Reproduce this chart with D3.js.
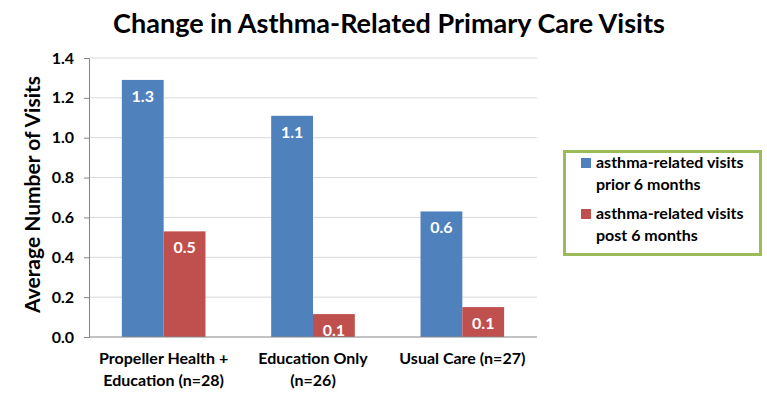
<!DOCTYPE html>
<html>
<head>
<meta charset="utf-8">
<script src="https://cdn.jsdelivr.net/npm/d3@7"></script>
<style>
  html, body { margin: 0; padding: 0; background: #fff; }
  svg { display: block; font-family: Lato, "Open Sans", sans-serif; font-weight: bold; }
</style>
</head>
<body>
<div id="chart"></div>
<script>
// chart data
const categories = [
  ["Propeller Health +", "Education (n=28)"],
  ["Education Only", "(n=26)"],
  ["Usual Care (n=27)"]
];
const seriesNames = [
  ["asthma-related visits", "prior 6 months"],
  ["asthma-related visits", "post 6 months"]
];
const priorVisits = [1.29, 1.11, 0.63];
const postVisits = [0.53, 0.115, 0.15];
const yTicks = [0, 0.2, 0.4, 0.6, 0.8, 1.0, 1.2, 1.4];
const colors = ["#4F81BD", "#C0504D"];

const width = 767;
const height = 395;
const margin = { top: 58, right: 230, bottom: 58, left: 89 };

const svg = d3.select("#chart")
  .append("svg")
  .attr("width", width)
  .attr("height", height);

// Scales
const x = d3.scaleBand()
  .domain(d3.range(categories.length))
  .range([margin.left, width - margin.right])
  .paddingInner(0.44)
  .paddingOuter(0.22);

const xSub = d3.scaleBand()
  .domain([0, 1])
  .range([0, x.bandwidth()]);

const y = d3.scaleLinear()
  .domain([0, 1.4])
  .range([height - margin.bottom, margin.top]);

// Gridlines
svg.append("g")
  .selectAll("line")
  .data(yTicks.slice(1))
  .join("line")
  .attr("x1", margin.left)
  .attr("x2", width - margin.right)
  .attr("y1", (d) => y(d))
  .attr("y2", (d) => y(d))
  .attr("stroke", "#D9D9D9")
  .attr("stroke-width", 1);

// Bars
const seriesData = [priorVisits, postVisits];
seriesData.forEach((vals, s) => {
  const g = svg.append("g");
  g.selectAll("rect")
    .data(vals)
    .join("rect")
    .attr("x", (d, i) => x(i) + xSub(s))
    .attr("y", (d) => y(d))
    .attr("width", xSub.bandwidth())
    .attr("height", (d) => y(0) - y(d))
    .attr("fill", colors[s]);

  g.selectAll("text")
    .data(vals)
    .join("text")
    .attr("x", (d, i) => x(i) + xSub(s) + xSub.bandwidth() / 2)
    .attr("y", (d) => y(d) + 22)
    .attr("text-anchor", "middle")
    .attr("fill", "#fff")
    .style("font-size", "16px")
    .text((d) => d3.format(".1f")(d));
});

// Y axis
const yAxis = d3.axisLeft(y)
  .tickValues(yTicks)
  .tickFormat(d3.format(".1f"))
  .tickSize(5)
  .tickPadding(10);

const yg = svg.append("g")
  .attr("transform", `translate(${margin.left},0)`)
  .call(yAxis);
yg.select(".domain").attr("stroke", "#868686");
yg.selectAll(".tick line").attr("stroke", "#868686");
yg.selectAll(".tick text")
  .attr("fill", "#000")
  .style("font-size", "16px")
  .style("font-family", "Lato, sans-serif")
  .style("font-weight", "bold");

// X axis baseline
svg.append("line")
  .attr("x1", margin.left)
  .attr("x2", width - margin.right)
  .attr("y1", y(0))
  .attr("y2", y(0))
  .attr("stroke", "#868686");

// Category labels
svg.append("g")
  .selectAll("text")
  .data(categories)
  .join("text")
  .attr("x", (d, i) => x(i) + x.bandwidth() / 2)
  .attr("y", 364)
  .attr("text-anchor", "middle")
  .style("font-size", "16px")
  .selectAll("tspan")
  .data((d) => d)
  .join("tspan")
  .attr("x", function () { return d3.select(this.parentNode).attr("x"); })
  .attr("dy", (d, i) => (i === 0 ? 0 : 22))
  .text((d) => d);

// Axis title
svg.append("text")
  .attr("transform", `translate(40,${(margin.top + height - margin.bottom) / 2 - 3}) rotate(-90)`)
  .attr("text-anchor", "middle")
  .style("font-size", "21px")
  .text("Average Number of Visits");

// Chart title
svg.append("text")
  .attr("x", 389)
  .attr("y", 33)
  .attr("text-anchor", "middle")
  .style("font-size", "27px")
  .text("Change in Asthma-Related Primary Care Visits");

// Legend
const legend = svg.append("g");
legend.append("rect")
  .attr("x", 564.5)
  .attr("y", 151.5)
  .attr("width", 196)
  .attr("height", 103)
  .attr("fill", "#fff")
  .attr("stroke", "#9BBB59")
  .attr("stroke-width", 3);

seriesNames.forEach((lines, s) => {
  const top = 168 + s * 51;
  legend.append("rect")
    .attr("x", 581)
    .attr("y", top - 10)
    .attr("width", 10)
    .attr("height", 10)
    .attr("fill", colors[s]);
  legend.append("text")
    .attr("x", 596)
    .attr("y", top)
    .style("font-size", "16px")
    .selectAll("tspan")
    .data(lines)
    .join("tspan")
    .attr("x", 596)
    .attr("dy", (d, i) => (i === 0 ? 0 : 22))
    .text((d) => d);
});
</script>
</body>
</html>
